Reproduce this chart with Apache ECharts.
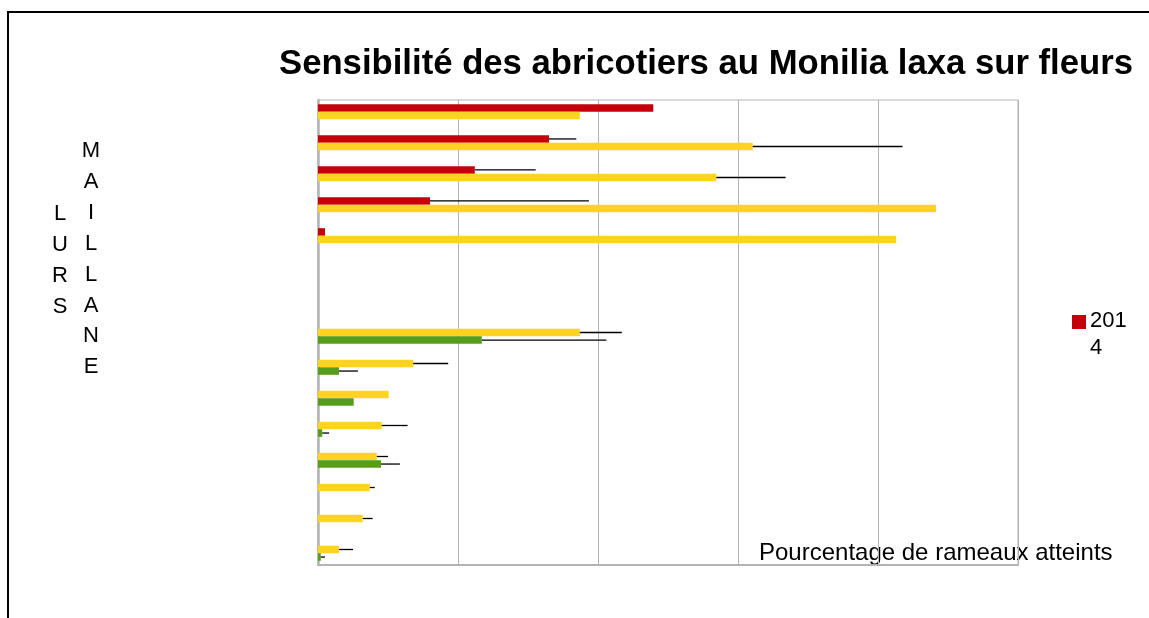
<!DOCTYPE html>
<html>
<head>
<meta charset="utf-8">
<script src="https://cdn.jsdelivr.net/npm/echarts@6/dist/echarts.min.js"></script>
<style>
  html, body { margin: 0; padding: 0; background: #fff; }
  #chart { width: 1149px; height: 618px; }
</style>
</head>
<body>
<div id="chart"></div>
<script>
// rows, top to bottom (labels are not shown on the chart)
const rows = ['r1', 'r2', 'r3', 'r4', 'r5', 'r6', 'r7', 'r8', 'r9', 'r10', 'r11', 'r12', 'r13', 'r14', 'r15']

// 2014 (red)
const red2014 = [47.9, 33.0, 22.4, 16.0, 1.0, null, null, null, null, null, null, null, null, null, null]
const red2014Err = [0, 3.9, 8.7, 22.7, 0, 0, 0, 0, 0, 0, 0, 0, 0, 0, 0]
// yellow series
const yellowVals = [37.4, 62.1, 56.9, 88.3, 82.6, null, null, 37.4, 13.6, 10.1, 9.1, 8.4, 7.4, 6.4, 3.0]
const yellowErr = [0, 21.4, 9.9, 0, 0, 0, 0, 6.0, 5.0, 0, 3.7, 1.6, 0.7, 1.4, 2.0]
// green series
const greenVals = [null, null, null, null, null, null, null, 23.4, 3.0, 5.1, 0.6, 9.0, null, null, 0.4]
const greenErr = [0, 0, 0, 0, 0, 0, 0, 17.8, 2.7, 0, 1.0, 2.7, 0, 0, 0.6]

const GAP = 0.27  // barCategoryGap

const chart = echarts.init(document.getElementById('chart'))

// error bar data: [value, row index, error]
const errData = (vals, errs) => vals
  .map((v, i) => [v, i, errs[i]])
  .filter(d => d[0] != null && d[2] > 0)

// draws the error line from the bar end, at the height of bar number 'slot'
const errRender = (slot) => (params, api) => {
  const v = api.value(0)
  const row = api.value(1)
  const e = api.value(2)
  const p0 = api.coord([v, row])
  const p1 = api.coord([v + e, row])
  const band = api.size([0, 1])[1]
  const w = band * (1 - GAP) / 3
  const y = p0[1] - band * (1 - GAP) / 2 + w * (slot + 0.5)
  return {
    type: 'line',
    shape: { x1: p0[0], y1: y, x2: p1[0], y2: y },
    style: { stroke: '#000', lineWidth: 1.3 }
  }
}

const option = {
  animation: false,
  grid: {
    left: 318, top: 100, right: 131, bottom: 53,
    show: true, borderColor: '#b3b3b3', borderWidth: 1
  },
  xAxis: {
    type: 'value',
    min: 0, max: 100, interval: 20,
    axisLabel: { show: false },
    axisTick: { show: false },
    axisLine: { show: true, lineStyle: { color: '#b3b3b3', width: 2 } },
    splitLine: { show: true, lineStyle: { color: '#b3b3b3', width: 1 } }
  },
  yAxis: {
    type: 'category',
    data: rows,
    inverse: true,
    axisLabel: { show: false },
    axisTick: { show: false },
    axisLine: { show: true, lineStyle: { color: '#b3b3b3', width: 2.5 } }
  },
  series: [
    {
      name: '2014', type: 'bar', data: red2014,
      barCategoryGap: (GAP * 100) + '%', barGap: 0,
      itemStyle: { color: '#c5000b' }
    },
    {
      name: 'jaune', type: 'bar', data: yellowVals,
      barCategoryGap: (GAP * 100) + '%', barGap: 0,
      itemStyle: { color: '#ffd320' }
    },
    {
      name: 'vert', type: 'bar', data: greenVals,
      barCategoryGap: (GAP * 100) + '%', barGap: 0,
      itemStyle: { color: '#579d1c' }
    },
    { type: 'custom', renderItem: errRender(0), data: errData(red2014, red2014Err), z: 5 },
    { type: 'custom', renderItem: errRender(1), data: errData(yellowVals, yellowErr), z: 5 },
    { type: 'custom', renderItem: errRender(2), data: errData(greenVals, greenErr), z: 5 }
  ],
  graphic: [
    {
      type: 'rect', silent: true,
      shape: { x: 8, y: 12, width: 1300, height: 800 },
      style: { fill: 'none', stroke: '#000', lineWidth: 2 }
    },
    {
      type: 'text', x: 706, y: 64,
      style: {
        text: 'Sensibilité des abricotiers au Monilia laxa sur fleurs',
        font: 'bold 34.7px "Liberation Sans", Arial, sans-serif',
        fill: '#000', align: 'center', verticalAlign: 'middle'
      }
    },
    {
      type: 'text', x: 759, y: 553,
      style: {
        text: 'Pourcentage de rameaux atteints',
        font: '24px "Liberation Sans", Arial, sans-serif',
        fill: '#000', align: 'left', verticalAlign: 'middle'
      }
    },
    {
      type: 'text', x: 91, y: 135.5,
      style: {
        text: 'M\nA\nI\nL\nL\nA\nN\nE',
        font: '22px "Liberation Sans", Arial, sans-serif',
        lineHeight: 30.9, fill: '#000', align: 'center', verticalAlign: 'top'
      }
    },
    {
      type: 'text', x: 60, y: 198.5,
      style: {
        text: 'L\nU\nR\nS',
        font: '22px "Liberation Sans", Arial, sans-serif',
        lineHeight: 30.9, fill: '#000', align: 'center', verticalAlign: 'top'
      }
    },
    {
      type: 'rect',
      shape: { x: 1072, y: 315, width: 14, height: 14 },
      style: { fill: '#c5000b' }
    },
    {
      type: 'text', x: 1090, y: 307.5,
      style: {
        text: '201\n4',
        font: '22px "Liberation Sans", Arial, sans-serif',
        lineHeight: 27, fill: '#000', align: 'left', verticalAlign: 'top'
      }
    }
  ]
}

chart.setOption(option)
</script>
</body>
</html>
